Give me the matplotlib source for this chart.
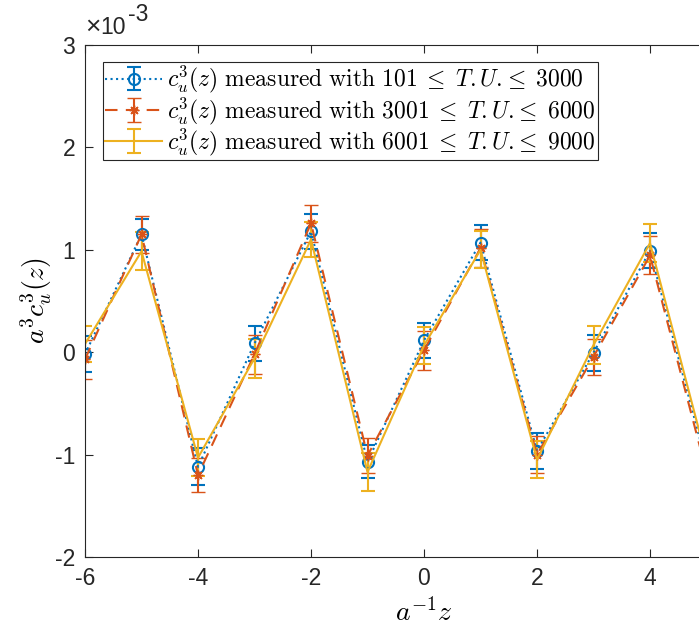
import numpy as np
import matplotlib.pyplot as plt
from matplotlib.ticker import FuncFormatter

plt.rcParams['mathtext.fontset'] = 'cm'
plt.rcParams['axes.unicode_minus'] = False
plt.rcParams['font.family'] = ['Liberation Sans', 'DejaVu Sans']

# positions along the lattice (a^-1 z)
z = np.arange(-6, 7)

# values in units of 1e-3
c_101_3000 = [-0.02, 1.15, -1.12, 0.085, 1.18, -1.07, 0.115, 1.07, -0.965, -0.005, 0.99, -1.09, 0.0]
err_101_3000 = [0.175, 0.15, 0.18, 0.17, 0.17, 0.16, 0.175, 0.17, 0.175, 0.175, 0.17, 0.17, 0.17]

c_3001_6000 = [-0.07, 1.15, -1.2, -0.02, 1.26, -1.01, 0.02, 1.015, -1.0, -0.045, 0.945, -1.17, -0.05]
err_3001_6000 = [0.19, 0.18, 0.17, 0.19, 0.18, 0.17, 0.19, 0.185, 0.18, 0.175, 0.185, 0.18, 0.18]

c_6001_9000 = [0.08, 0.985, -1.03, -0.06, 1.10, -1.17, 0.065, 1.0, -1.05, 0.07, 1.065, -1.04, 0.05]
err_6001_9000 = [0.18, 0.185, 0.18, 0.19, 0.175, 0.19, 0.185, 0.18, 0.18, 0.19, 0.185, 0.18, 0.18]

labels = [r"$c_u^3(z)\ \mathrm{measured\ with}\ 101 \;\leq\; T.U.\!\leq\; 3000$",
          r"$c_u^3(z)\ \mathrm{measured\ with}\ 3001 \;\leq\; T.U.\!\leq\; 6000$",
          r"$c_u^3(z)\ \mathrm{measured\ with}\ 6001 \;\leq\; T.U.\!\leq\; 9000$"]

scale = 1e-3

fig = plt.figure(figsize=(6.99, 6.28), dpi=100)
ax = fig.add_axes([85/699, 1 - 557/628, 678/699, 512/628])

ax.errorbar(z, np.array(c_101_3000)*scale, yerr=np.array(err_101_3000)*scale,
            color='#0072BD', ls=':', lw=1.5, marker='o', ms=8, mfc='none', mew=1.5,
            capsize=5, elinewidth=1.5, capthick=1.5, label=labels[0])
ax.errorbar(z, np.array(c_3001_6000)*scale, yerr=np.array(err_3001_6000)*scale,
            color='#D95319', ls='--', lw=1.5, marker=(8, 2, 0), ms=7, mew=1.0,
            capsize=5, elinewidth=1.5, capthick=1.5, label=labels[1], dashes=(6, 4))
ax.errorbar(z, np.array(c_6001_9000)*scale, yerr=np.array(err_6001_9000)*scale,
            color='#EDB120', ls='-', lw=1.5, marker='none',
            capsize=5, elinewidth=1.5, capthick=1.5, label=labels[2])

ax.set_xlim(-6, 6)
ax.set_ylim(-2e-3, 3e-3)
ax.set_xticks([-6, -4, -2, 0, 2, 4])
ax.set_yticks(np.arange(-2, 4) * scale)
ax.yaxis.set_major_formatter(FuncFormatter(lambda v, p: '%g' % round(v / scale)))

ax.tick_params(direction='in', length=6, width=0.8, top=True, right=True,
               labelsize=16.5, colors='#262626', pad=7)
for s in ax.spines.values():
    s.set_linewidth(0.8)
    s.set_color('#262626')

# exponent label above the y axis
ax.text(0.0, 1.012, '\u00d7', transform=ax.transAxes,
        fontsize=19, color='#262626', ha='left', va='bottom')
ax.text(0.023, 1.012, '10', transform=ax.transAxes,
        fontsize=16.5, color='#262626', ha='left', va='bottom')
ax.text(0.063, 1.037, '-3', transform=ax.transAxes,
        fontsize=16.5, color='#262626', ha='left', va='bottom')

ax.set_xlabel(r'$a^{-1}z$', fontsize=20, labelpad=6)
ax.set_ylabel(r'$a^3c_u^3(z)$', fontsize=20, labelpad=1)

leg = ax.legend(loc='upper left', bbox_to_anchor=(0.0265, 0.967), borderaxespad=0,
                fontsize=17, fancybox=False, edgecolor='#262626', framealpha=1,
                handlelength=2.4, handletextpad=0.2, labelspacing=0.0,
                borderpad=0.1)
leg.get_frame().set_linewidth(0.8)

fig.savefig('out.png', dpi=100)
